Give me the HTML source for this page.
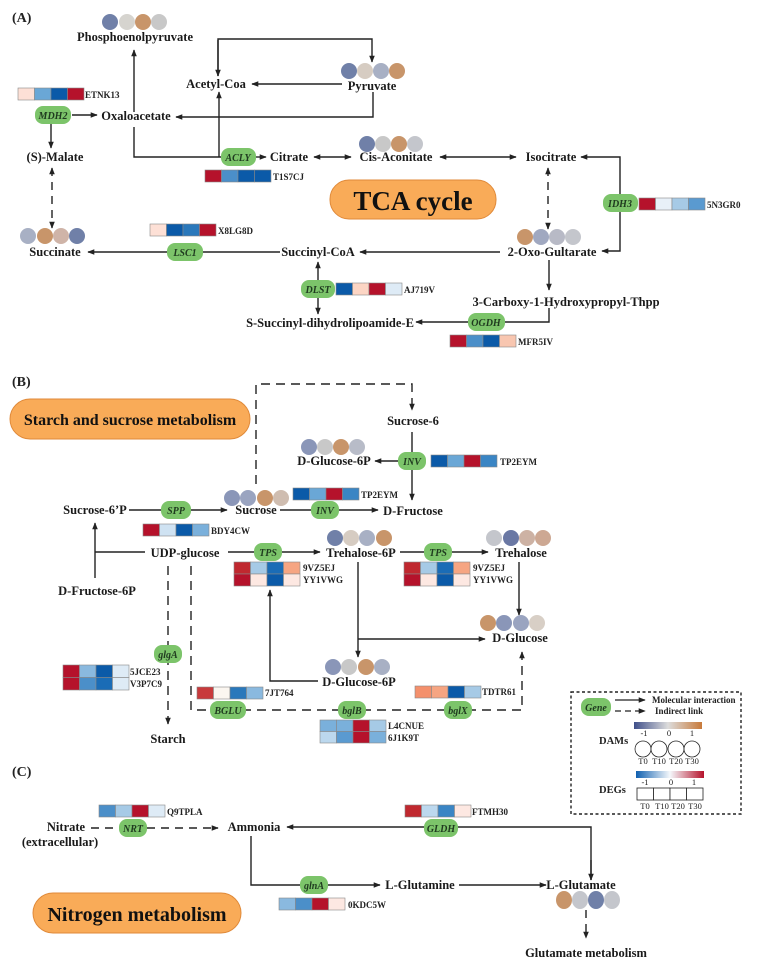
<!DOCTYPE html>
<html><head><meta charset="utf-8"><style>
html,body{margin:0;padding:0;background:#fff;}
svg{display:block;font-family:"Liberation Serif",serif;}
.m{font-weight:bold;font-size:12.5px;fill:#1a1a1a;}
.g{font-weight:bold;font-style:italic;font-size:10px;fill:#1f3a1f;}
.id{font-weight:bold;font-size:9px;fill:#222;}
.s{font-size:8.5px;fill:#222;}
</style></head><body>
<svg width="757" height="970" viewBox="0 0 757 970" xmlns="http://www.w3.org/2000/svg">
<defs>
<marker id="a" viewBox="0 0 10 10" refX="9" refY="5" markerWidth="7" markerHeight="7" orient="auto-start-reverse" markerUnits="userSpaceOnUse"><path d="M0,1 L10,5 L0,9 Z" fill="#222"/></marker>
<linearGradient id="dam" x1="0" x2="1"><stop offset="0" stop-color="#3f4f8a"/><stop offset="0.5" stop-color="#dcdcdc"/><stop offset="1" stop-color="#c87a3a"/></linearGradient>
<linearGradient id="deg" x1="0" x2="1"><stop offset="0" stop-color="#1060b0"/><stop offset="0.5" stop-color="#f5f8fb"/><stop offset="1" stop-color="#b5122b"/></linearGradient>
</defs>
<g stroke="#222" stroke-width="1.4" fill="none">
<polyline points="218,76 218,39 372,39 372,62" marker-end="url(#a)"/>
<line x1="218" y1="40" x2="218" y2="76" marker-end="url(#a)"/>
<line x1="342" y1="84" x2="252" y2="84" marker-end="url(#a)"/>
<polyline points="373,92 373,117 176,117" marker-end="url(#a)"/>
<line x1="72" y1="115" x2="97" y2="115" marker-end="url(#a)"/>
<line x1="51" y1="124" x2="51" y2="148" marker-end="url(#a)"/>
<line x1="52" y1="168" x2="52" y2="228" stroke-dasharray="8,6" marker-start="url(#a)" marker-end="url(#a)"/>
<line x1="134" y1="112" x2="134" y2="50" marker-end="url(#a)"/>
<polyline points="134,127 134,157 222,157"/>
<line x1="219" y1="157" x2="219" y2="92" marker-end="url(#a)"/>
<line x1="256" y1="157" x2="266" y2="157" marker-end="url(#a)"/>
<line x1="314" y1="157" x2="351" y2="157" marker-start="url(#a)" marker-end="url(#a)"/>
<line x1="440" y1="157" x2="516" y2="157" marker-start="url(#a)" marker-end="url(#a)"/>
<polyline points="620,194 620,157 581,157" marker-end="url(#a)"/>
<polyline points="620,212 620,251 602,251" marker-end="url(#a)"/>
<line x1="548" y1="168" x2="548" y2="229" stroke-dasharray="8,6" marker-start="url(#a)" marker-end="url(#a)"/>
<line x1="500" y1="252" x2="360" y2="252" marker-end="url(#a)"/>
<line x1="280" y1="252" x2="88" y2="252" marker-end="url(#a)"/>
<line x1="318" y1="262" x2="318" y2="314" marker-start="url(#a)" marker-end="url(#a)"/>
<line x1="549" y1="260" x2="549" y2="290" marker-end="url(#a)"/>
<polyline points="549,308 549,322 416,322" marker-end="url(#a)"/>
<polyline points="256,484 256,384 412,384 412,410" stroke-dasharray="9,6" marker-end="url(#a)"/>
<line x1="412" y1="432" x2="412" y2="500" marker-end="url(#a)"/>
<line x1="400" y1="461" x2="375" y2="461" marker-end="url(#a)"/>
<line x1="129" y1="510" x2="227" y2="510" marker-end="url(#a)"/>
<line x1="280" y1="510" x2="378" y2="510" marker-end="url(#a)"/>
<polyline points="145,552 95,552"/>
<line x1="95" y1="578" x2="95" y2="523" marker-end="url(#a)"/>
<line x1="228" y1="552" x2="320" y2="552" marker-end="url(#a)"/>
<line x1="400" y1="552" x2="488" y2="552" marker-end="url(#a)"/>
<line x1="519" y1="562" x2="519" y2="615" marker-end="url(#a)"/>
<line x1="358" y1="562" x2="358" y2="657" marker-end="url(#a)"/>
<line x1="358" y1="639" x2="485" y2="639" marker-end="url(#a)"/>
<polyline points="318,681 270,681 270,590" marker-end="url(#a)"/>
<line x1="168" y1="566" x2="168" y2="724" stroke-dasharray="9,6" marker-end="url(#a)"/>
<polyline points="191,566 191,710 522,710 522,652" stroke-dasharray="9,6" marker-end="url(#a)"/>
<line x1="91" y1="828" x2="218" y2="828" stroke-dasharray="8,6" marker-end="url(#a)"/>
<polyline points="591,880 591,827 287,827" marker-end="url(#a)"/>
<line x1="591" y1="860" x2="591" y2="880" marker-end="url(#a)"/>
<polyline points="251,836 251,885 380,885" marker-end="url(#a)"/>
<line x1="459" y1="885" x2="546" y2="885" marker-end="url(#a)"/>
<line x1="586" y1="910" x2="586" y2="938" stroke-dasharray="8,6" marker-end="url(#a)"/>
</g>
<g font-weight="bold" font-size="14" fill="#222"><text x="12" y="22">(A)</text><text x="12" y="386">(B)</text><text x="12" y="776">(C)</text></g>
<rect x="330" y="180" width="166" height="39" rx="19" fill="#f9ab58" stroke="#e08a3a"/>
<text x="413" y="210" text-anchor="middle" font-weight="bold" font-size="27" fill="#111">TCA cycle</text>
<rect x="10" y="399" width="240" height="40" rx="20" fill="#f9ab58" stroke="#e08a3a"/>
<text x="130" y="425" text-anchor="middle" font-weight="bold" font-size="16" fill="#111">Starch and sucrose metabolism</text>
<rect x="33" y="893" width="208" height="40" rx="20" fill="#f9ab58" stroke="#e08a3a"/>
<text x="137" y="921" text-anchor="middle" font-weight="bold" font-size="20" fill="#111">Nitrogen metabolism</text>
<g class="m" text-anchor="middle">
<text x="135" y="41">Phosphoenolpyruvate</text>
<text x="216" y="88">Acetyl-Coa</text>
<text x="372" y="90">Pyruvate</text>
<text x="136" y="120">Oxaloacetate</text>
<text x="55" y="161">(S)-Malate</text>
<text x="289" y="161">Citrate</text>
<text x="396" y="161">Cis-Aconitate</text>
<text x="551" y="161">Isocitrate</text>
<text x="55" y="256">Succinate</text>
<text x="318" y="256">Succinyl-CoA</text>
<text x="552" y="256">2-Oxo-Gultarate</text>
<text x="566" y="306">3-Carboxy-1-Hydroxypropyl-Thpp</text>
<text x="330" y="327">S-Succinyl-dihydrolipoamide-E</text>
<text x="413" y="425">Sucrose-6</text>
<text x="334" y="465">D-Glucose-6P</text>
<text x="95" y="514">Sucrose-6’P</text>
<text x="256" y="514">Sucrose</text>
<text x="413" y="515">D-Fructose</text>
<text x="185" y="557">UDP-glucose</text>
<text x="361" y="557">Trehalose-6P</text>
<text x="521" y="557">Trehalose</text>
<text x="97" y="595">D-Fructose-6P</text>
<text x="520" y="642">D-Glucose</text>
<text x="359" y="686">D-Glucose-6P</text>
<text x="168" y="743">Starch</text>
<text x="66" y="831">Nitrate</text>
<text x="60" y="846">(extracellular)</text>
<text x="254" y="831">Ammonia</text>
<text x="420" y="889">L-Glutamine</text>
<text x="581" y="889">L-Glutamate</text>
<text x="586" y="957">Glutamate metabolism</text>
</g>
<g fill="#7cc46a">
<rect x="35" y="106" width="36" height="18" rx="8"/>
<rect x="221" y="148" width="35" height="18" rx="8"/>
<rect x="603" y="194" width="35" height="18" rx="8"/>
<rect x="167" y="243" width="36" height="18" rx="8"/>
<rect x="301" y="280" width="34" height="18" rx="8"/>
<rect x="468" y="313" width="37" height="18" rx="8"/>
<rect x="398" y="452" width="28" height="18" rx="8"/>
<rect x="161" y="501" width="30" height="18" rx="8"/>
<rect x="311" y="501" width="28" height="18" rx="8"/>
<rect x="254" y="543" width="28" height="18" rx="8"/>
<rect x="424" y="543" width="28" height="18" rx="8"/>
<rect x="154" y="645" width="28" height="18" rx="8"/>
<rect x="210" y="701" width="36" height="18" rx="8"/>
<rect x="338" y="701" width="28" height="18" rx="8"/>
<rect x="444" y="701" width="28" height="18" rx="8"/>
<rect x="119" y="819" width="28" height="18" rx="8"/>
<rect x="424" y="819" width="34" height="18" rx="8"/>
<rect x="300" y="876" width="28" height="18" rx="8"/>
<rect x="581" y="698" width="30" height="18" rx="8"/>
</g>
<g class="g" text-anchor="middle">
<text x="53" y="119">MDH2</text><text x="238" y="161">ACLY</text><text x="620" y="207">IDH3</text>
<text x="185" y="256">LSC1</text><text x="318" y="293">DLST</text><text x="486" y="326">OGDH</text>
<text x="412" y="465">INV</text><text x="176" y="514">SPP</text><text x="325" y="514">INV</text>
<text x="268" y="556">TPS</text><text x="438" y="556">TPS</text><text x="168" y="658">glgA</text>
<text x="228" y="714">BGLU</text><text x="352" y="714">bglB</text><text x="458" y="714">bglX</text>
<text x="133" y="832">NRT</text><text x="441" y="832">GLDH</text><text x="314" y="889">glnA</text>
<text x="596" y="711">Gene</text>
</g>
<g>
<circle cx="110" cy="22" r="8" fill="#7080a8"/><circle cx="127" cy="22" r="8" fill="#d6d4cf"/><circle cx="143" cy="22" r="8" fill="#c8956a"/><circle cx="159" cy="22" r="8" fill="#c8c8c8"/>
<circle cx="349" cy="71" r="8" fill="#7080a8"/><circle cx="365" cy="71" r="8" fill="#d6ccc2"/><circle cx="381" cy="71" r="8" fill="#a8b0c4"/><circle cx="397" cy="71" r="8" fill="#c8956a"/>
<circle cx="367" cy="144" r="8" fill="#7080a8"/><circle cx="383" cy="144" r="8" fill="#c8c8c8"/><circle cx="399" cy="144" r="8" fill="#c8956a"/><circle cx="415" cy="144" r="8" fill="#c4c6cc"/>
<circle cx="28" cy="236" r="8" fill="#a8b0c4"/><circle cx="45" cy="236" r="8" fill="#c8956a"/><circle cx="61" cy="236" r="8" fill="#cfb4a8"/><circle cx="77" cy="236" r="8" fill="#7080a8"/>
<circle cx="525" cy="237" r="8" fill="#c8956a"/><circle cx="541" cy="237" r="8" fill="#a0a8c0"/><circle cx="557" cy="237" r="8" fill="#b8bac6"/><circle cx="573" cy="237" r="8" fill="#c4c6cc"/>
<circle cx="309" cy="447" r="8" fill="#8a96b8"/><circle cx="325" cy="447" r="8" fill="#c8c8c8"/><circle cx="341" cy="447" r="8" fill="#c8956a"/><circle cx="357" cy="447" r="8" fill="#b8bcc8"/>
<circle cx="232" cy="498" r="8" fill="#8a96b8"/><circle cx="248" cy="498" r="8" fill="#9aa4c0"/><circle cx="265" cy="498" r="8" fill="#c8956a"/><circle cx="281" cy="498" r="8" fill="#cfbdb0"/>
<circle cx="335" cy="538" r="8" fill="#7080a8"/><circle cx="351" cy="538" r="8" fill="#d6ccc2"/><circle cx="367" cy="538" r="8" fill="#a8b0c4"/><circle cx="384" cy="538" r="8" fill="#c8956a"/>
<circle cx="494" cy="538" r="8" fill="#c4c6cc"/><circle cx="511" cy="538" r="8" fill="#6a78a4"/><circle cx="527" cy="538" r="8" fill="#cdb2a4"/><circle cx="543" cy="538" r="8" fill="#cda893"/>
<circle cx="488" cy="623" r="8" fill="#c8956a"/><circle cx="504" cy="623" r="8" fill="#8a96b8"/><circle cx="521" cy="623" r="8" fill="#9aa4c0"/><circle cx="537" cy="623" r="8" fill="#d8cfc6"/>
<circle cx="333" cy="667" r="8" fill="#8a96b8"/><circle cx="349" cy="667" r="8" fill="#c8c8c8"/><circle cx="366" cy="667" r="8" fill="#c8956a"/><circle cx="382" cy="667" r="8" fill="#a8b0c4"/>
<ellipse cx="564" cy="900" rx="8" ry="9" fill="#c8956a"/><ellipse cx="580" cy="900" rx="8" ry="9" fill="#c4c6cc"/><ellipse cx="596" cy="900" rx="8" ry="9" fill="#7080a8"/><ellipse cx="612" cy="900" rx="8" ry="9" fill="#c4c6cc"/>
</g>
<g stroke="#888" stroke-width="0.6">
<g transform="translate(18,88)"><rect width="16.5" height="12" fill="#fde0d6"/><rect x="16.5" width="16.5" height="12" fill="#6aa7d6"/><rect x="33" width="16.5" height="12" fill="#0b5aa8"/><rect x="49.5" width="16.5" height="12" fill="#b5122b"/></g>
<g transform="translate(205,170)"><rect width="16.5" height="12" fill="#b5122b"/><rect x="16.5" width="16.5" height="12" fill="#4b8fc9"/><rect x="33" width="16.5" height="12" fill="#0b5aa8"/><rect x="49.5" width="16.5" height="12" fill="#0b5aa8"/></g>
<g transform="translate(150,224)"><rect width="16.5" height="12" fill="#fde0d6"/><rect x="16.5" width="16.5" height="12" fill="#0b5aa8"/><rect x="33" width="16.5" height="12" fill="#2a78bb"/><rect x="49.5" width="16.5" height="12" fill="#b5122b"/></g>
<g transform="translate(336,283)"><rect width="16.5" height="12" fill="#0b5aa8"/><rect x="16.5" width="16.5" height="12" fill="#fcd5c4"/><rect x="33" width="16.5" height="12" fill="#b5122b"/><rect x="49.5" width="16.5" height="12" fill="#deebf6"/></g>
<g transform="translate(639,198)"><rect width="16.5" height="12" fill="#b5122b"/><rect x="16.5" width="16.5" height="12" fill="#e8f0f8"/><rect x="33" width="16.5" height="12" fill="#a6cae6"/><rect x="49.5" width="16.5" height="12" fill="#5a9ad0"/></g>
<g transform="translate(450,335)"><rect width="16.5" height="12" fill="#b5122b"/><rect x="16.5" width="16.5" height="12" fill="#4b8fc9"/><rect x="33" width="16.5" height="12" fill="#0b5aa8"/><rect x="49.5" width="16.5" height="12" fill="#f8c6b0"/></g>
<g transform="translate(431,455)"><rect width="16.5" height="12" fill="#0b5aa8"/><rect x="16.5" width="16.5" height="12" fill="#6aa7d6"/><rect x="33" width="16.5" height="12" fill="#b5122b"/><rect x="49.5" width="16.5" height="12" fill="#3a85c4"/></g>
<g transform="translate(293,488)"><rect width="16.5" height="12" fill="#0b5aa8"/><rect x="16.5" width="16.5" height="12" fill="#6aa7d6"/><rect x="33" width="16.5" height="12" fill="#b5122b"/><rect x="49.5" width="16.5" height="12" fill="#3a85c4"/></g>
<g transform="translate(143,524)"><rect width="16.5" height="12" fill="#b5122b"/><rect x="16.5" width="16.5" height="12" fill="#cfe2f2"/><rect x="33" width="16.5" height="12" fill="#0b5aa8"/><rect x="49.5" width="16.5" height="12" fill="#7ab0db"/></g>
<g transform="translate(234,562)"><rect width="16.5" height="12" fill="#c0282f"/><rect x="16.5" width="16.5" height="12" fill="#a6cae6"/><rect x="33" width="16.5" height="12" fill="#1a6cb6"/><rect x="49.5" width="16.5" height="12" fill="#f6a582"/><rect y="12" width="16.5" height="12" fill="#b5122b"/><rect x="16.5" y="12" width="16.5" height="12" fill="#fde8e2"/><rect x="33" y="12" width="16.5" height="12" fill="#0b5aa8"/><rect x="49.5" y="12" width="16.5" height="12" fill="#fde8e2"/></g>
<g transform="translate(404,562)"><rect width="16.5" height="12" fill="#c0282f"/><rect x="16.5" width="16.5" height="12" fill="#a6cae6"/><rect x="33" width="16.5" height="12" fill="#1a6cb6"/><rect x="49.5" width="16.5" height="12" fill="#f6a582"/><rect y="12" width="16.5" height="12" fill="#b5122b"/><rect x="16.5" y="12" width="16.5" height="12" fill="#fde8e2"/><rect x="33" y="12" width="16.5" height="12" fill="#0b5aa8"/><rect x="49.5" y="12" width="16.5" height="12" fill="#fde8e2"/></g>
<g transform="translate(63,665)"><rect width="16.5" height="12.5" fill="#b5122b"/><rect x="16.5" width="16.5" height="12.5" fill="#8ab9df"/><rect x="33" width="16.5" height="12.5" fill="#0b5aa8"/><rect x="49.5" width="16.5" height="12.5" fill="#deebf6"/><rect y="12.5" width="16.5" height="12.5" fill="#b5122b"/><rect x="16.5" y="12.5" width="16.5" height="12.5" fill="#4b8fc9"/><rect x="33" y="12.5" width="16.5" height="12.5" fill="#1a6cb6"/><rect x="49.5" y="12.5" width="16.5" height="12.5" fill="#deebf6"/></g>
<g transform="translate(197,687)"><rect width="16.5" height="12" fill="#c83a3c"/><rect x="16.5" width="16.5" height="12" fill="#fbf6f0"/><rect x="33" width="16.5" height="12" fill="#2a78bb"/><rect x="49.5" width="16.5" height="12" fill="#8ab9df"/></g>
<g transform="translate(415,686)"><rect width="16.5" height="12" fill="#f4906c"/><rect x="16.5" width="16.5" height="12" fill="#f6a582"/><rect x="33" width="16.5" height="12" fill="#0b5aa8"/><rect x="49.5" width="16.5" height="12" fill="#a6cae6"/></g>
<g transform="translate(320,720)"><rect width="16.5" height="11.5" fill="#7ab0db"/><rect x="16.5" width="16.5" height="11.5" fill="#7ab0db"/><rect x="33" width="16.5" height="11.5" fill="#b5122b"/><rect x="49.5" width="16.5" height="11.5" fill="#a6cae6"/><rect y="11.5" width="16.5" height="11.5" fill="#bcd8ee"/><rect x="16.5" y="11.5" width="16.5" height="11.5" fill="#5a9ad0"/><rect x="33" y="11.5" width="16.5" height="11.5" fill="#b5122b"/><rect x="49.5" y="11.5" width="16.5" height="11.5" fill="#7ab0db"/></g>
<g transform="translate(99,805)"><rect width="16.5" height="12" fill="#4b8fc9"/><rect x="16.5" width="16.5" height="12" fill="#a6cae6"/><rect x="33" width="16.5" height="12" fill="#b5122b"/><rect x="49.5" width="16.5" height="12" fill="#deebf6"/></g>
<g transform="translate(405,805)"><rect width="16.5" height="12" fill="#c0282f"/><rect x="16.5" width="16.5" height="12" fill="#bcd8ee"/><rect x="33" width="16.5" height="12" fill="#3a85c4"/><rect x="49.5" width="16.5" height="12" fill="#fde8e2"/></g>
<g transform="translate(279,898)"><rect width="16.5" height="12" fill="#8ab9df"/><rect x="16.5" width="16.5" height="12" fill="#4b8fc9"/><rect x="33" width="16.5" height="12" fill="#b5122b"/><rect x="49.5" width="16.5" height="12" fill="#fde8e2"/></g>
</g>
<g class="id">
<text x="85" y="98">ETNK13</text><text x="273" y="180">T1S7CJ</text><text x="218" y="234">X8LG8D</text>
<text x="404" y="293">AJ719V</text><text x="707" y="208">5N3GR0</text><text x="518" y="345">MFR5IV</text>
<text x="500" y="465">TP2EYM</text><text x="361" y="498">TP2EYM</text><text x="211" y="534">BDY4CW</text>
<text x="303" y="571">9VZ5EJ</text><text x="303" y="583">YY1VWG</text><text x="473" y="571">9VZ5EJ</text><text x="473" y="583">YY1VWG</text>
<text x="130" y="675">5JCE23</text><text x="130" y="687">V3P7C9</text><text x="265" y="696">7JT764</text>
<text x="482" y="695">TDTR61</text><text x="388" y="729">L4CNUE</text><text x="388" y="741">6J1K9T</text>
<text x="167" y="815">Q9TPLA</text><text x="472" y="815">FTMH30</text><text x="348" y="908">0KDC5W</text>
</g>
<rect x="571" y="692" width="170" height="122" fill="none" stroke="#222" stroke-width="1.4" stroke-dasharray="3,2.5"/>
<g stroke="#222" stroke-width="1.3">
<line x1="615" y1="700" x2="645" y2="700" marker-end="url(#a)"/>
<line x1="615" y1="711" x2="645" y2="711" stroke-dasharray="6,4" marker-end="url(#a)"/>
</g>
<g font-weight="bold" font-size="9" fill="#222">
<text x="652" y="703">Molecular interaction</text>
<text x="655" y="714">Indirect link</text>
<text x="599" y="744" font-size="10.5">DAMs</text>
<text x="599" y="793" font-size="10.5">DEGs</text>
</g>
<rect x="634" y="722" width="68" height="7" fill="url(#dam)"/>
<rect x="636" y="771" width="68" height="7" fill="url(#deg)"/>
<g class="s" text-anchor="middle">
<text x="644" y="736">-1</text><text x="669" y="736">0</text><text x="692" y="736">1</text>
<text x="643" y="764">T0</text><text x="659" y="764">T10</text><text x="676" y="764">T20</text><text x="692" y="764">T30</text>
<text x="645" y="785">-1</text><text x="671" y="785">0</text><text x="694" y="785">1</text>
<text x="645" y="809">T0</text><text x="662" y="809">T10</text><text x="678" y="809">T20</text><text x="695" y="809">T30</text>
</g>
<g fill="#fff" stroke="#222" stroke-width="0.8">
<circle cx="643" cy="749" r="8"/><circle cx="659" cy="749" r="8"/><circle cx="676" cy="749" r="8"/><circle cx="692" cy="749" r="8"/>
<rect x="637" y="788" width="16.5" height="12"/><rect x="653.5" y="788" width="16.5" height="12"/><rect x="670" y="788" width="16.5" height="12"/><rect x="686.5" y="788" width="16.5" height="12"/>
</g>
</svg>
</body></html>
